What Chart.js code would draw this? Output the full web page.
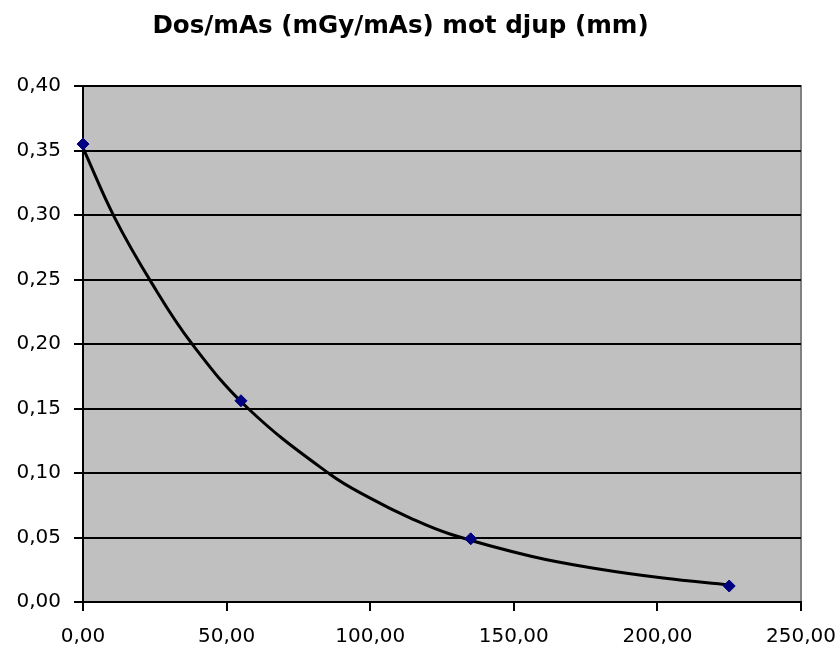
<!DOCTYPE html>
<html>
<head>
<meta charset="utf-8">
<script src="https://cdn.jsdelivr.net/npm/chart.js@4/dist/chart.umd.min.js"></script>
<style>
  html, body { margin: 0; padding: 0; background: #ffffff; }
  canvas { display: block; }
</style>
</head>
<body>
<canvas id="c" width="839" height="651"></canvas>
<script>
// Measured points: depth (mm) and dose per mAs (mGy/mAs)
const depthMm = [0, 55, 135, 225];
const dosePerMAs = [0.355, 0.156, 0.049, 0.0124];
// Curve (trendline)
const trendDepth = [0, 11, 24, 38, 57.5, 86, 100, 114, 128, 156, 179, 202, 225];
const trendDose = [0.352, 0.298, 0.247, 0.200, 0.150, 0.099, 0.0805, 0.065, 0.0525, 0.0355, 0.0258, 0.0186, 0.0132];
// Axis ticks
const xTicks = [0, 50, 100, 150, 200, 250];
const yTicks = [0, 0.05, 0.10, 0.15, 0.20, 0.25, 0.30, 0.35, 0.40];
const titleText = 'Dos/mAs (mGy/mAs) mot djup (mm)';

const fmt = v => Number(v).toFixed(2).replace('.', ',');

const plotBg = {
  id: 'plotBg',
  beforeDraw(chart) {
    const { ctx, chartArea: a } = chart;
    ctx.save();
    ctx.fillStyle = '#c0c0c0';
    ctx.fillRect(a.left, a.top, a.right - a.left, a.bottom - a.top);
    ctx.strokeStyle = '#808080';
    ctx.lineWidth = 2;
    ctx.beginPath();
    ctx.moveTo(a.left, a.top);
    ctx.lineTo(a.right, a.top);
    ctx.lineTo(a.right, a.bottom);
    ctx.stroke();
    ctx.restore();
  }
};

new Chart(document.getElementById('c'), {
  type: 'scatter',
  data: {
    datasets: [
      {
        label: 'Dos/mAs',
        data: depthMm.map((x, i) => ({ x, y: dosePerMAs[i] })),
        showLine: false,
        pointStyle: 'rectRot',
        pointRadius: 6,
        pointBackgroundColor: '#000080',
        pointBorderColor: '#000080',
        pointBorderWidth: 1,
        clip: false,
        order: 0
      },
      {
        label: 'Trend',
        data: trendDepth.map((x, i) => ({ x, y: trendDose[i] })),
        showLine: true,
        borderColor: '#000000',
        borderWidth: 3,
        pointRadius: 0,
        tension: 0.4,
        clip: false,
        order: 1
      }
    ]
  },
  options: {
    responsive: false,
    animation: false,
    devicePixelRatio: 1,
    layout: { padding: { left: 0, right: 38, top: 0, bottom: 0 } },
    plugins: {
      legend: { display: false },
      tooltip: { enabled: false },
      title: {
        display: true,
        text: titleText,
        color: '#000000',
        font: { family: 'DejaVu Sans', size: 24.6, weight: 'bold' },
        padding: { top: 12, bottom: 44.5 }
      }
    },
    scales: {
      x: {
        type: 'linear',
        min: 0,
        max: 250,
        afterBuildTicks(scale) { scale.ticks = xTicks.map(v => ({ value: v })); },
        afterFit(scale) { scale.height = 49; scale.paddingLeft = 0; scale.paddingRight = 0; },
        ticks: {
          callback: v => fmt(v),
          color: '#000000',
          font: { family: 'DejaVu Sans', size: 20 },
          padding: 14,
          maxRotation: 0
        },
        grid: {
          drawOnChartArea: false,
          drawTicks: true,
          tickLength: 9,
          color: '#000000',
          lineWidth: 2
        },
        border: { display: true, color: '#000000', width: 2 }
      },
      y: {
        type: 'linear',
        min: 0,
        max: 0.4,
        afterBuildTicks(scale) { scale.ticks = yTicks.map(v => ({ value: v })); },
        afterFit(scale) { scale.width = 83; },
        ticks: {
          callback: v => fmt(v),
          color: '#000000',
          font: { family: 'DejaVu Sans', size: 20 },
          padding: 13
        },
        grid: {
          drawOnChartArea: true,
          drawTicks: true,
          tickLength: 9,
          color: '#000000',
          lineWidth: 2
        },
        border: { display: true, color: '#000000', width: 2 }
      }
    }
  },
  plugins: [plotBg]
});
</script>
</body>
</html>
